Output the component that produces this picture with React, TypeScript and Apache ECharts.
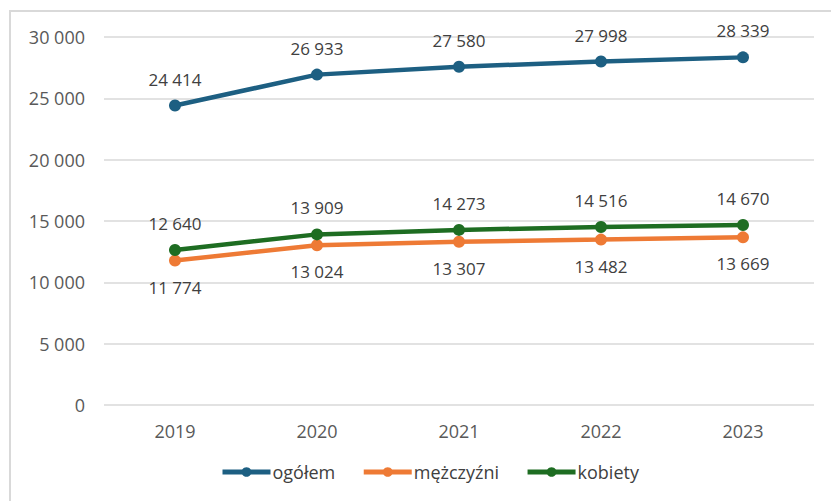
import React, { useEffect, useRef } from "react";
import * as echarts from "echarts";

const years = ["2019", "2020", "2021", "2022", "2023"];
const ogolem = [24414, 26933, 27580, 27998, 28339];
const mezczyzni = [11774, 13024, 13307, 13482, 13669];
const kobiety = [12640, 13909, 14273, 14516, 14670];
const seriesNames = ["ogółem", "mężczyźni", "kobiety"];
const colors = ["#1D5F82", "#EE7A35", "#1E6D22"];

const fmt = (v: number) => String(v).replace(/\B(?=(\d{3})+(?!\d))/g, " ");

export default function App() {
  const ref = useRef<HTMLDivElement>(null);
  useEffect(() => {
    document.body.style.margin = "0";
    const chart = echarts.init(ref.current!, null, { renderer: "svg" });
    const font = "'Open Sans', 'Noto Sans', sans-serif";
    const mk = (name: string, data: number[], color: string, pos: string) => ({
      name,
      type: "line",
      data,
      symbol: "circle",
      symbolSize: 12,
      lineStyle: { width: 4.5, color },
      itemStyle: { color },
      label: {
        show: true,
        position: pos,
        distance: 12,
        fontSize: 17,
        color: "#404040",
        fontFamily: font,
        formatter: (p: any) => fmt(p.value),
      },
    });
    chart.setOption({
      animation: false,
      textStyle: { fontFamily: font },
      graphic: [
        {
          type: "rect",
          shape: { x: 10, y: 11, width: 900, height: 600 },
          style: { fill: "none", stroke: "#D9D9D9", lineWidth: 2 },
          silent: true,
        },
      ],
      grid: { left: 104, right: 17, top: 37, bottom: 96 },
      xAxis: {
        type: "category",
        data: years,
        boundaryGap: true,
        axisLine: { show: false },
        axisTick: { show: false },
        axisLabel: { fontSize: 18, color: "#595959", margin: 17, fontFamily: font },
      },
      yAxis: {
        type: "value",
        min: 0,
        max: 30000,
        interval: 5000,
        axisLine: { show: false },
        axisTick: { show: false },
        splitLine: { lineStyle: { color: "#D9D9D9", width: 1.5 } },
        axisLabel: {
          fontSize: 18,
          color: "#595959",
          margin: 19,
          fontFamily: font,
          formatter: (v: number) => fmt(v),
        },
      },
      legend: {
        bottom: 15,
        left: 215,
        itemWidth: 48,
        itemHeight: 12,
        itemGap: 26,
        lineStyle: { width: 5 },
        textStyle: { fontSize: 18, color: "#404040", fontFamily: font, padding: [0, 0, 0, -3] },
        data: seriesNames,
      },
      series: [
        mk(seriesNames[0], ogolem, colors[0], "top"),
        mk(seriesNames[1], mezczyzni, colors[1], "bottom"),
        mk(seriesNames[2], kobiety, colors[2], "top"),
      ],
    });
    return () => chart.dispose();
  }, []);
  return <div ref={ref} style={{ width: 831, height: 501 }} />;
}
